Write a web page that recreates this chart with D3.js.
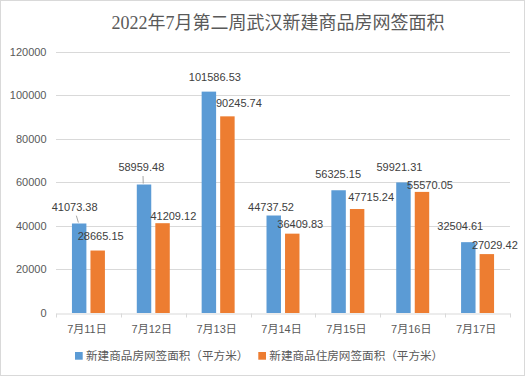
<!DOCTYPE html>
<html>
<head>
<meta charset="utf-8">
<script src="https://cdn.jsdelivr.net/npm/d3@7"></script>
<style>
  body { margin: 0; background: #fff; }
  #chart svg { display: block; }
</style>
</head>
<body>
<div id="chart"></div>
<script>
var title = "2022年7月第二周武汉新建商品房网签面积";
var days = ["7月11日", "7月12日", "7月13日", "7月14日", "7月15日", "7月16日", "7月17日"];
var seriesNames = ["新建商品房网签面积（平方米）", "新建商品住房网签面积（平方米）"];
var totalArea = [41073.38, 58959.48, 101586.53, 44737.52, 56325.15, 59921.31, 32504.61];
var homeArea = [28665.15, 41209.12, 90245.74, 36409.83, 47715.24, 55570.05, 27029.42];
var yTicks = [0, 20000, 40000, 60000, 80000, 100000, 120000];

// where excel's "best fit" put each data label, relative to its bar top
var labelShift = [
  [[-4.5, -12.8, 1], [3, -10.5, 0]],
  [[-2.7, -13.5, 1], [10.8, -3, 0]],
  [[6, -10.5, 0], [11.5, -9, 0]],
  [[-2.7, -5, 0], [8, -5.6, 0]],
  [[-0.5, -12, 0], [14, -8.3, 0]],
  [[-4, -11.7, 0], [8, -3, 0]],
  [[-8, -12, 0], [8, -5, 0]]
];

var colors = ["#5b9bd5", "#ed7d31"];
var width = 525, height = 376;
var margin = {top: 51.5, right: 15, bottom: 63, left: 56};

var svg = d3.select("#chart").append("svg")
    .attr("width", width)
    .attr("height", height);

svg.append("rect")
    .attr("x", 0.5).attr("y", 0.5)
    .attr("width", width - 1).attr("height", height - 1)
    .attr("fill", "#fff").attr("stroke", "#d9d9d9");

svg.append("text")
    .attr("x", 278).attr("y", 29)
    .attr("text-anchor", "middle")
    .style("font-family", "'Liberation Serif', 'DejaVu Serif', 'Noto Sans CJK SC', serif")
    .style("font-size", "18px")
    .style("fill", "#595959")
    .text(title);

var x0 = d3.scaleBand()
    .domain(days)
    .range([margin.left, width - margin.right]);

var x1 = d3.scaleBand()
    .domain([0, 1])
    .range([0, x0.bandwidth()])
    .paddingInner(0.22)
    .paddingOuter(0.86);

var y = d3.scaleLinear()
    .domain([0, 120000])
    .range([height - margin.bottom, margin.top]);

// gridlines
svg.append("g").selectAll("line")
  .data(yTicks.slice(1))
  .enter().append("line")
    .attr("x1", margin.left).attr("x2", width - margin.right)
    .attr("y1", function(d) { return Math.round(y(d)) + 0.5; })
    .attr("y2", function(d) { return Math.round(y(d)) + 0.5; })
    .attr("stroke", "#d9d9d9");

// y labels
svg.append("g").selectAll("text")
  .data(yTicks)
  .enter().append("text")
    .attr("x", 46.5)
    .attr("y", function(d) { return y(d) + 4; })
    .attr("text-anchor", "end")
    .style("font-family", "'Liberation Sans', Arial, sans-serif")
    .style("font-size", "11px")
    .style("fill", "#595959")
    .text(function(d) { return d; });

// x axis
var xAxis = svg.append("g")
    .attr("transform", "translate(0," + (Math.round(y(0)) + 0.5) + ")")
    .call(d3.axisBottom(x0).tickSize(0).tickFormat(""));
xAxis.select(".domain").attr("stroke", "#d9d9d9");
var edges = days.map(function(d) { return x0(d); }).concat([width - margin.right]);
xAxis.selectAll(".edge")
  .data(edges)
  .enter().append("line")
    .attr("x1", function(d) { return Math.round(d) + 0.5; })
    .attr("x2", function(d) { return Math.round(d) + 0.5; })
    .attr("y1", 0).attr("y2", 4)
    .attr("stroke", "#d9d9d9");

svg.append("g").selectAll("text")
  .data(days)
  .enter().append("text")
    .attr("x", function(d) { return x0(d) + x0.bandwidth() / 2 - 1.5; })
    .attr("y", 333)
    .attr("text-anchor", "middle")
    .style("font-family", "'Liberation Sans', 'Noto Sans CJK SC', sans-serif")
    .style("font-size", "11px")
    .style("fill", "#595959")
    .text(function(d) { return d; });

// bars
var series = [totalArea, homeArea];
var groups = svg.append("g").selectAll("g")
  .data(days)
  .enter().append("g")
    .attr("transform", function(d) { return "translate(" + x0(d) + ",0)"; });

groups.selectAll("rect")
  .data(function(d, i) { return series.map(function(s, k) { return {k: k, v: s[i]}; }); })
  .enter().append("rect")
    .attr("x", function(d) { return x1(d.k); })
    .attr("width", x1.bandwidth())
    .attr("y", function(d) { return y(d.v); })
    .attr("height", function(d) { return y(0) - y(d.v); })
    .attr("fill", function(d) { return colors[d.k]; });

// data labels
groups.each(function(day, i) {
  var g = d3.select(this);
  series.forEach(function(s, k) {
    var sh = labelShift[i][k];
    var cx = x1(k) + x1.bandwidth() / 2;
    var top = y(s[i]);
    var lx = cx + sh[0], ly = top + sh[1];
    if (sh[2]) {
      g.append("line")
        .attr("x1", lx + 1.7).attr("y1", ly + 5)
        .attr("x2", cx - 0.8).attr("y2", top - 1)
        .attr("stroke", "#a6a6a6");
    }
    g.append("text")
      .attr("x", lx).attr("y", ly)
      .attr("text-anchor", "middle")
      .style("font-family", "'Liberation Sans', Arial, sans-serif")
      .style("font-size", "11px")
      .style("fill", "#404040")
      .text(d3.format(".2f")(s[i]));
  });
});

// legend
var legend = svg.append("g");
var legendX = [75, 258.3];
seriesNames.forEach(function(name, k) {
  legend.append("rect")
    .attr("x", legendX[k]).attr("y", 352)
    .attr("width", 7.7).attr("height", 7.7)
    .attr("fill", colors[k]);
  legend.append("text")
    .attr("x", legendX[k] + 11).attr("y", 360)
    .style("font-family", "'Noto Sans CJK SC', sans-serif")
    .style("font-size", "11.6px")
    .style("fill", "#595959")
    .text(name);
});
</script>
</body>
</html>
